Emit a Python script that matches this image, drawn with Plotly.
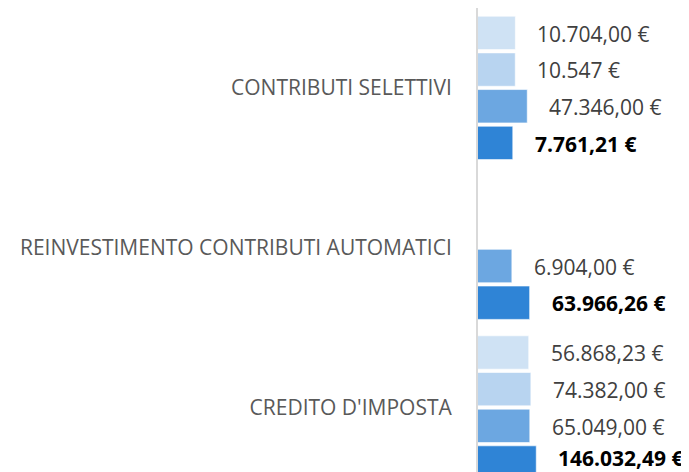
import math
import plotly.graph_objects as go

categories = ["CONTRIBUTI SELETTIVI", "REINVESTIMENTO CONTRIBUTI AUTOMATICI", "CREDITO D'IMPOSTA"]

serie1 = [10704.00, None, 56868.23]
serie2 = [10547.00, None, 74382.00]
serie3 = [47346.00, 6904.00, 65049.00]
serie4 = [7761.21, 63966.26, 146032.49]

labels1 = ["10.704,00 €", "", "56.868,23 €"]
labels2 = ["10.547 €", "", "74.382,00 €"]
labels3 = ["47.346,00 €", "6.904,00 €", "65.049,00 €"]
labels4 = ["7.761,21 €", "63.966,26 €", "146.032,49 €"]

colors = ["#cfe2f4", "#b8d4f0", "#6ca7e1", "#2f84d6"]
series = [serie1, serie2, serie3, serie4]
labels = [labels1, labels2, labels3, labels4]

# page body adds an 8px offset; layout compensates for it
OFF = 8
W, H = 689, 472
ml, mr, mt, mb = 478 - OFF, 8 + OFF, 8 - OFF, 0 + OFF
px_per_decade = 18.41
plot_w = W - ml - mr
plot_h = H - mt - mb
slot = 159.8
bargap = 0.082
bar_pitch = slot * (1 - bargap) / len(series)
label_size = 21
half_box = label_size * 1.362 / 2
visible_bottom = H - OFF

fig = go.Figure()
annotations = []
for i, (vals, labs, col) in enumerate(zip(series, labels, colors)):
    bold = i == 3
    fig.add_trace(go.Bar(
        x=vals, y=categories, orientation="h",
        marker=dict(color=col, line=dict(color="rgba(255,255,255,0.6)", width=1)),
        showlegend=False, hoverinfo="skip",
    ))
    for j, (v, l) in enumerate(zip(vals, labs)):
        if v is None or not l:
            continue
        ys = -(i - 1.5) * bar_pitch - 0.7
        center_px = mt + (j + 0.5) * slot - ys
        overflow = center_px + half_box - visible_bottom
        if overflow > 0:
            ys += overflow
        annotations.append(dict(
            x=math.log10(v), y=j, xref="x", yref="y",
            text=("<b>%s</b>" % l) if bold else l,
            showarrow=False, xanchor="left", yanchor="middle",
            xshift=20, yshift=ys,
            font=dict(family="Open Sans", size=label_size, color="#000000" if bold else "#404040"),
        ))

fig.update_layout(
    width=W, height=H,
    margin=dict(l=ml, r=mr, t=mt, b=mb, pad=0),
    paper_bgcolor="white", plot_bgcolor="white",
    barmode="group", bargap=bargap, bargroupgap=0.09,
    xaxis=dict(type="log", range=[2, 2 + plot_w / px_per_decade],
               showgrid=False, zeroline=False, showticklabels=False, ticks="", showline=False),
    yaxis=dict(type="category", range=[-0.5 + plot_h / slot, -0.5],
               showline=True, linecolor="#d9d9d9", linewidth=2,
               ticks="", ticklabelstandoff=20, showgrid=False,
               tickfont=dict(family="Open Sans", size=21, color="#595959")),
    font=dict(family="Open Sans"),
    annotations=annotations,
)

fig.write_html("out.html")
